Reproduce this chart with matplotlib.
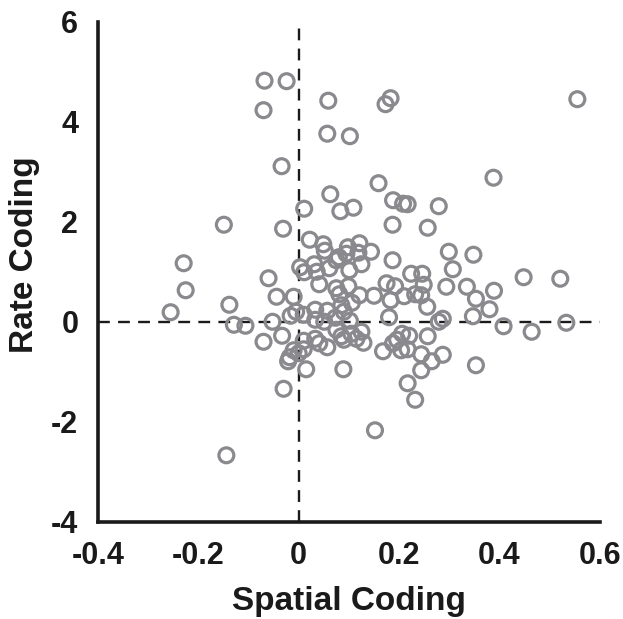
import matplotlib as mpl
import matplotlib.pyplot as plt

mpl.use('Agg')

# data
spatial = [-0.068, -0.024, -0.070, 0.059, 0.173, 0.183, 0.555, 0.057, 0.102, -0.034,
           0.159, 0.388, 0.063, 0.011, 0.083, 0.109, 0.188, 0.208, 0.217, 0.279,
           -0.149, -0.031, 0.187, 0.257, 0.022, 0.049, 0.052, 0.098, 0.121, 0.144,
           0.299, 0.348, -0.229, -0.225, -0.255, 0.080, 0.003, 0.011, 0.031, 0.036,
           0.061, 0.075, 0.095, 0.101, 0.119, 0.125, 0.187, 0.224, 0.246, 0.307,
           0.448, 0.521, -0.060, 0.041, 0.075, 0.099, 0.175, 0.192, 0.249, 0.294,
           0.335, 0.389, -0.044, -0.010, 0.081, 0.121, 0.150, 0.210, 0.232, 0.244,
           0.353, -0.138, 0.085, 0.106, 0.183, 0.256, 0.380, -0.005, -0.016, 0.010,
           0.033, 0.057, 0.090, 0.180, 0.347, -0.052, 0.033, 0.051, 0.073, 0.102,
           0.279, 0.287, 0.533, -0.129, -0.106, 0.408, 0.464, -0.033, -0.070, 0.010,
           0.033, 0.041, 0.057, 0.075, 0.085, 0.090, 0.105, 0.115, 0.125, 0.129,
           0.168, 0.188, 0.196, 0.206, 0.220, 0.204, 0.217, 0.257, 0.244, 0.265,
           0.287, 0.244, 0.353, 0.217, 0.232, -0.010, 0.000, 0.010, -0.018, -0.021,
           0.015, 0.089, -0.030, 0.152, -0.144]
rate = [4.82, 4.81, 4.23, 4.42, 4.35, 4.47, 4.45, 3.76, 3.71, 3.11,
        2.77, 2.88, 2.55, 2.26, 2.21, 2.28, 2.43, 2.36, 2.35, 2.31,
        1.94, 1.86, 1.94, 1.88, 1.64, 1.55, 1.42, 1.49, 1.57, 1.40,
        1.40, 1.34, 1.17, 0.63, 0.19, 1.29, 1.09, 0.99, 1.15, 1.00,
        1.07, 1.23, 1.36, 1.03, 1.38, 1.15, 1.23, 0.96, 0.96, 1.05,
        0.89, 0.86, 0.87, 0.75, 0.67, 0.71, 0.77, 0.71, 0.74, 0.70,
        0.70, 0.62, 0.50, 0.50, 0.55, 0.53, 0.52, 0.51, 0.55, 0.53,
        0.46, 0.34, 0.33, 0.38, 0.43, 0.30, 0.25, 0.20, 0.12, 0.14,
        0.24, 0.22, 0.20, 0.09, 0.11, 0.00, 0.04, 0.00, 0.08, 0.02,
        0.00, 0.06, -0.02, -0.06, -0.08, -0.09, -0.20, -0.28, -0.40, -0.38,
        -0.34, -0.43, -0.51, -0.16, -0.29, -0.36, -0.24, -0.34, -0.20, -0.42,
        -0.59, -0.43, -0.36, -0.24, -0.28, -0.57, -0.55, -0.29, -0.65, -0.79,
        -0.66, -0.97, -0.87, -1.23, -1.56, -0.57, -0.63, -0.55, -0.71, -0.79,
        -0.95, -0.95, -1.34, -2.17, -2.67]

xticks = [-0.4, -0.2, 0, 0.2, 0.4, 0.6]
xticklabels = ['-0.4', '-0.2', '0', '0.2', '0.4', '0.6']
yticks = [-4, -2, 0, 2, 4, 6]
yticklabels = ['-4', '-2', '0', '2', '4', '6']

plt.rcParams['font.family'] = ['Liberation Sans', 'DejaVu Sans']
plt.rcParams['font.weight'] = 'bold'
plt.rcParams['axes.unicode_minus'] = False

fig = plt.figure(figsize=(6.23, 6.19), dpi=100)
ax = fig.add_axes([0.157, 0.157, 0.806, 0.808])

ax.axhline(0, color='#1a1a1a', lw=1.7, dashes=(5, 3.5), zorder=1)
ax.axvline(0, color='#1a1a1a', lw=1.7, dashes=(5, 3.5), zorder=1)

ax.scatter(spatial, rate, s=115, facecolors='none', edgecolors='#8a8a8e',
           linewidths=2.3, zorder=2)

ax.set_xlim(-0.4, 0.6)
ax.set_ylim(-4, 6)
ax.set_xticks(xticks)
ax.set_xticklabels(xticklabels)
ax.set_yticks(yticks)
ax.set_yticklabels(yticklabels)

for s in ['top', 'right']:
    ax.spines[s].set_visible(False)
for s in ['left', 'bottom']:
    ax.spines[s].set_linewidth(2.6)
    ax.spines[s].set_color('#1a1a1a')

ax.tick_params(axis='both', length=0, labelsize=22, colors='#1a1a1a')
ax.tick_params(axis='x', pad=14)
ax.tick_params(axis='y', pad=14)
for lab in ax.get_xticklabels() + ax.get_yticklabels():
    lab.set_fontweight('bold')

ax.set_xlabel('Spatial Coding', fontsize=24, fontweight='bold', color='#1a1a1a')
ax.set_ylabel('Rate Coding', fontsize=24, fontweight='bold', color='#1a1a1a')
ax.xaxis.set_label_coords(0.5, -0.128)
ax.yaxis.set_label_coords(-0.115, 0.535)

plt.savefig('out.png', dpi=100)
